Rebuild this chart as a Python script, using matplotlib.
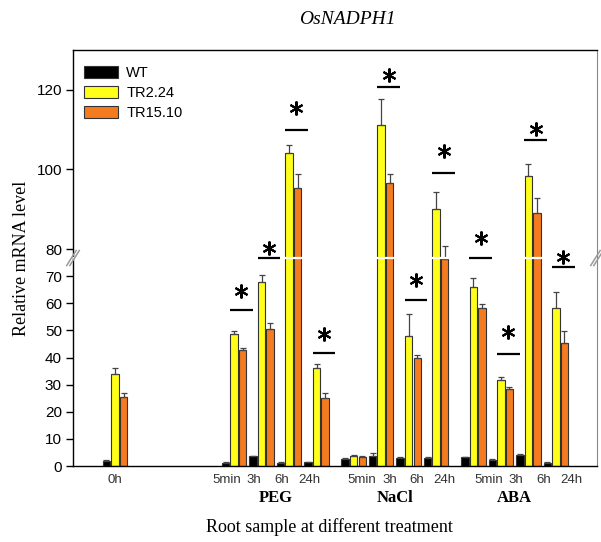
import numpy as np
import matplotlib
matplotlib.use("Agg")
import matplotlib.pyplot as plt
import matplotlib.transforms as mtransforms

# time points per treatment (0h control first)
labels = ["0h", "5min", "3h", "6h", "24h", "5min", "3h", "6h", "24h",
          "5min", "3h", "6h", "24h"]
treatments = ["PEG", "NaCl", "ABA"]

wt = [1.8, 1.2, 3.6, 1.2, 1.3, 2.6, 3.7, 3.1, 2.8, 3.2, 2.2, 4.1, 1.2]
wt_err = [0.4, 0.2, 0.2, 0.2, 0.3, 0.2, 1.0, 0.3, 0.4, 0.0, 0.4, 0.3, 0.4]
tr224 = [33.8, 48.5, 67.9, 104.1, 36.2, 3.8, 111.1, 48.0, 90.1, 66.1, 31.7, 98.4, 58.1]
tr224_err = [2.2, 1.2, 2.5, 2.0, 1.3, 0.3, 6.7, 8.2, 4.3, 3.3, 1.2, 3.0, 5.9]
tr1510 = [25.5, 42.7, 50.6, 95.4, 24.9, 3.4, 96.7, 39.7, 76.2, 58.1, 28.4, 89.1, 45.2]
tr1510_err = [1.3, 0.7, 2.0, 3.4, 2.1, 0.2, 2.1, 1.4, 4.6, 1.8, 0.8, 3.8, 4.7]

# significance marks: (sample index, line height)
sig_idx = [1, 2, 3, 4, 6, 7, 8, 9, 10, 11, 12]
sig_y = [57.4, 77.0, 109.9, 41.5, 120.6, 61.1, 99.1, 77.0, 41.4, 107.3, 73.2]
star_gap = [19, 10, 22, 19, 12, 20, 22, 20, 22, 11, 10]  # pixels above the line

# broken y axis: 0-76.7 on the lower half, 77.75-130 on the upper half
A, B, TOP = 76.7, 77.75, 130.0


def fwd(y):
    y = np.asarray(y, float)
    return np.where(y <= A, y / A, np.where(y >= B, 1 + (y - B) / (TOP - B), 1.0))


def inv(t):
    t = np.asarray(t, float)
    return np.where(t <= 1, t * A, B + (t - 1) * (TOP - B))


# x layout: control, then 3 treatments x 4 time points
starts = [4.33, 8.68, 13.03]
pos = np.array([0.0] + [s + i for s in starts for i in range(4)])
label_shift = np.array([0.0] + [-0.27] * 4 + [0.31] * 4 + [0.55] * 4)

fig = plt.figure(figsize=(6.01, 5.42), dpi=100)
ax = fig.add_axes([73 / 601, 76 / 542, 524 / 601, 416 / 542])
ax.set_yscale("function", functions=(fwd, inv))

w = 0.27
off = 0.31
colors = ["#000000", "#FFFF1A", "#F47B20"]
names = ["WT", "TR2.24", "TR15.10"]
for k, (vals, errs) in enumerate([(wt, wt_err), (tr224, tr224_err), (tr1510, tr1510_err)]):
    x = pos + (k - 1) * off
    ax.bar(x, vals, width=w, color=colors[k], edgecolor="#333333", linewidth=0.8,
           label=names[k], zorder=2)
    ax.errorbar(x, vals, yerr=[np.zeros(len(vals)), errs], fmt="none",
                ecolor="#444444", elinewidth=0.9, capsize=2.4, capthick=0.9, zorder=3)

# white gap across the bars at the break
ax.axhline(77.2, color="white", lw=1.6, zorder=4)

# significance lines and stars
for i, y, g in zip(sig_idx, sig_y, star_gap):
    c = pos[i] + 0.27
    ax.plot([c - 0.41, c + 0.41], [y, y], color="black", lw=1.6, zorder=5,
            solid_capstyle="butt")
    tr = mtransforms.offset_copy(ax.transData, fig=fig, x=0, y=g, units="dots")
    ax.plot([c], [y], marker=(6, 2, 0), ms=10, mew=1.5, color="black",
            transform=tr, zorder=5, clip_on=False)

ax.set_xlim(-1.527, 17.527)
ax.set_ylim(0, TOP)
ax.set_yticks([0, 10, 20, 30, 40, 50, 60, 70, 80, 100, 120])
ax.set_yticklabels(["0", "10", "20", "30", "40", "50", "60", "70", "80", "100", "120"],
                   fontfamily="Liberation Sans", fontsize=11)
ax.yaxis.set_minor_locator(matplotlib.ticker.NullLocator())
ax.tick_params(axis="y", direction="out", length=5, width=1, pad=3)

ax.set_xticks(pos + label_shift)
ax.set_xticklabels(labels, fontfamily="Liberation Sans", fontsize=9.5, color="#333333")
ax.tick_params(axis="x", length=0, pad=6)

for s in ["left", "bottom", "top"]:
    ax.spines[s].set_color("black")
    ax.spines[s].set_linewidth(1)
ax.spines["right"].set_color("#888888")

# break marks on both spines
for xa in (0, 1):
    for dx in (-0.003, 0.003):
        ax.plot([xa - 0.009 + dx, xa + 0.009 + dx], [0.482, 0.518], color="#999999",
                lw=1.1, transform=ax.transAxes, clip_on=False, zorder=6)

# treatment names under the time points
trans = mtransforms.blended_transform_factory(ax.transData, ax.transAxes)
for t, s in zip(treatments, starts):
    ax.text(s + 1.5, -0.077, t, transform=trans, ha="center", va="center",
            fontfamily="Liberation Serif", fontweight="bold", fontsize=12)

leg = ax.legend(loc="upper left", bbox_to_anchor=(0.021, 0.962), frameon=False,
                borderaxespad=0, borderpad=0, handlelength=2.3, handleheight=0.9,
                handletextpad=0.6, labelspacing=0.42,
                prop={"family": "Liberation Sans", "size": 10.5})

fig.text(347 / 601, 1 - 20 / 542, "OsNADPH1", ha="center", va="center",
         fontfamily="Liberation Serif", fontstyle="italic", fontsize=14)
fig.text(329 / 601, 1 - 527 / 542, "Root sample at different treatment", ha="center",
         va="center", fontfamily="Liberation Serif", fontsize=13)
fig.text(22 / 601, 1 - 258 / 542, "Relative mRNA level", ha="center", va="center",
         rotation=90, fontfamily="Liberation Serif", fontsize=13)

fig.savefig("out.png", dpi=100)
